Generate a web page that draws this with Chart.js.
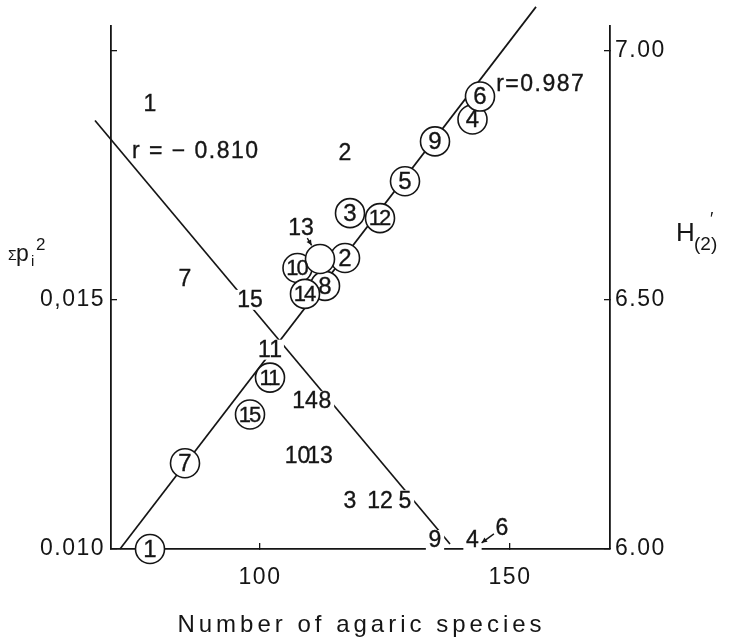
<!DOCTYPE html>
<html>
<head>
<meta charset="utf-8">
<script src="https://cdn.jsdelivr.net/npm/chart.js@4.4.0/dist/chart.umd.min.js"></script>
<style>
  html, body { margin: 0; padding: 0; background: #fff; }
</style>
</head>
<body>
<canvas id="myChart" width="733" height="643"></canvas>
<script>
const ctx = document.getElementById('myChart');

// site numbers, species counts, Simpson index and H'(2) per site
const sites   = ['1', '2', '3', '4', '5', '6', '7', '8', '9', '10', '11', '12', '13', '14', '15'];
const species = [78, 117, 118, 142.5, 129, 144, 85, 113, 135, 107.5, 102, 124, 112, 109, 98];
const simpson = [0.01894, 0.01795, 0.01098, 0.01018, 0.01098, 0.0101, 0.01542, 0.01297, 0.01018, 0.01187, 0.0140, 0.01098, 0.01187, 0.01297, 0.0150];
const shannon = [6.00, 6.584, 6.674, 6.862, 6.738, 6.908, 6.172, 6.528, 6.818, 6.564, 6.344, 6.664, 6.582, 6.512, 6.27];

// the two fitted lines, ends as drawn
const simpsonFitX = [67, 138];
const simpsonFitY = [0.0186, 0.0101];
const shannonFitX = [72, 155.2];
const shannonFitY = [6.00, 7.088];

const xTicks = [100, 150];
const xTickLabels = ['100', '150'];
const leftTicks = [0.010, 0.015, 0.020];
const leftTickLabels = ['0.010', '0,015', ''];
const rightTicks = [6.00, 6.50, 7.00];
const rightTickLabels = ['6.00', '6.50', '7.00'];

const rTexts = ['r = \u2212 0.810', 'r=0.987'];

// where labels sit away from their point (pixels), and the r notes in data units
const labelShift = { plain: { '6': [22, -16] }, circled: { '13': [-19, -31] } };
const emptyCircles = ['13'];
const rNotes = [
  { x: 87, y: 0.0180, axis: 'yL' },
  { x: 156, y: 6.934, axis: 'yR' }
];

const FAM = '"Liberation Sans", Arial, Helvetica, sans-serif';
const INK = '#151515';

function xy(xs, ys) {
  return xs.map((x, i) => ({ x: x, y: ys[i] }));
}

function arrow(c, x1, y1, x2, y2) {
  c.beginPath();
  c.moveTo(x1, y1);
  c.lineTo(x2, y2);
  c.stroke();
  const a = Math.atan2(y2 - y1, x2 - x1);
  c.beginPath();
  c.moveTo(x2, y2);
  c.lineTo(x2 - 6 * Math.cos(a - 0.45), y2 - 6 * Math.sin(a - 0.45));
  c.lineTo(x2 - 6 * Math.cos(a + 0.45), y2 - 6 * Math.sin(a + 0.45));
  c.closePath();
  c.fill();
}

function setFont(c, size, spacing) {
  c.font = size + 'px ' + FAM;
  c.letterSpacing = spacing + 'px';
  c.textAlign = 'center';
  c.textBaseline = 'middle';
}

function whiteBox(c, s, x, y, size, spacing) {
  setFont(c, size, spacing);
  const w = c.measureText(s).width;
  c.fillStyle = '#fff';
  c.fillRect(x - w / 2 - 2, y - 10, w + 4, 20);
}

function text(c, s, x, y, size, spacing) {
  setFont(c, size, spacing);
  c.fillStyle = INK;
  c.fillText(s, x + spacing / 2, y + 1);
  c.lineWidth = 0.35;
  c.strokeStyle = INK;
  c.strokeText(s, x + spacing / 2, y + 1);
}

const labelPlugin = {
  id: 'siteLabels',
  beforeDraw(chart) {
    chart.ctx.letterSpacing = '1.5px';
  },
  afterDatasetsDraw(chart) {
    const c = chart.ctx;
    c.save();
    const plain = chart.getDatasetMeta(1).data;

    // plain numbers (Simpson index): white boxes first, then text
    plain.forEach((pt, i) => {
      const s = sites[i];
      if (!labelShift.plain[s]) whiteBox(c, s, pt.x, pt.y, 23, s.length > 1 ? 0 : 1.5);
    });
    plain.forEach((pt, i) => {
      const s = sites[i];
      const sh = labelShift.plain[s];
      if (sh) {
        const lx = pt.x + sh[0], ly = pt.y + sh[1];
        const d = Math.hypot(sh[0], sh[1]);
        const ux = -sh[0] / d, uy = -sh[1] / d;
        c.strokeStyle = INK; c.fillStyle = INK; c.lineWidth = 1.4;
        arrow(c, lx + ux * 10, ly + uy * 10, pt.x - ux * 2, pt.y - uy * 2);
        text(c, s, lx, ly, 23, 1.5);
      } else {
        text(c, s, pt.x, pt.y, 23, s.length > 1 ? 0 : 1.5);
      }
    });

    // circled numbers: H'(2)
    chart.getDatasetMeta(0).data.forEach((pt, i) => {
      const s = sites[i];
      const sh = labelShift.circled[s];
      if (sh) {
        const lx = pt.x + sh[0], ly = pt.y + sh[1];
        const d = Math.hypot(sh[0], sh[1]);
        const ux = -sh[0] / d, uy = -sh[1] / d;
        c.strokeStyle = INK; c.fillStyle = INK; c.lineWidth = 1.4;
        arrow(c, lx + ux * 12, ly + uy * 12, pt.x - ux * 16, pt.y - uy * 16);
        text(c, s, lx, ly, 23, 0);
      }
      if (emptyCircles.indexOf(s) < 0) {
        if (s.length > 1) text(c, s, pt.x, pt.y, 22, -2);
        else text(c, s, pt.x, pt.y, 24, 0);
      }
    });

    // r values
    rNotes.forEach((n, i) => {
      const px = chart.scales.x.getPixelForValue(n.x);
      const py = chart.scales[n.axis].getPixelForValue(n.y);
      text(c, rTexts[i], px, py, 23, 1.5);
    });
    c.restore();
  },
  afterDraw(chart) {
    const c = chart.ctx;
    const a = chart.chartArea;
    c.save();
    c.fillStyle = INK;
    c.textBaseline = 'alphabetic';

    // x title
    c.font = '24px ' + FAM;
    c.letterSpacing = '4px';
    c.textAlign = 'center';
    c.fillText('Number of agaric species', (a.left + a.right) / 2 + 1, a.bottom + 83);

    // left title  Σp_i^2
    c.textAlign = 'left';
    c.letterSpacing = '0px';
    const yb = a.top + 235;
    c.font = '14px ' + FAM;
    c.fillText('\u03A3', a.left - 103, yb - 1);
    c.font = '23px ' + FAM;
    c.fillText('p', a.left - 95, yb);
    c.font = '15px ' + FAM;
    c.fillText('i', a.left - 80, yb + 5);
    c.font = '17px ' + FAM;
    c.fillText('2', a.left - 75, yb - 11);

    // right title  H'(2)
    const rb = a.top + 215;
    c.font = '26px ' + FAM;
    c.fillText('H', a.right + 66, rb);
    c.font = '19px ' + FAM;
    c.fillText('(2)', a.right + 84, rb + 9);
    c.font = '18px ' + FAM;
    c.fillText('\u2032', a.right + 100, rb - 16);
    c.restore();
  }
};

const tickFont = { family: 'Liberation Sans', size: 23 };

var chart = new Chart(ctx, {
  type: 'scatter',
  data: {
    datasets: [{
      label: "H'(2)",
      data: xy(species, shannon),
      yAxisID: 'yR',
      pointRadius: 14.5,
      pointHoverRadius: 14.5,
      pointBackgroundColor: '#fff',
      pointBorderColor: INK,
      pointBorderWidth: 1.6,
      showLine: false,
      clip: false,
      order: 0
    }, {
      label: 'Simpson',
      data: xy(species, simpson),
      yAxisID: 'yL',
      pointRadius: 0,
      showLine: false,
      clip: false,
      order: 1
    }, {
      label: 'Simpson fit',
      data: xy(simpsonFitX, simpsonFitY),
      yAxisID: 'yL',
      showLine: true,
      pointRadius: 0,
      borderColor: INK,
      borderWidth: 1.7,
      clip: false,
      order: 3
    }, {
      label: 'H fit',
      data: xy(shannonFitX, shannonFitY),
      yAxisID: 'yR',
      showLine: true,
      pointRadius: 0,
      borderColor: INK,
      borderWidth: 1.7,
      clip: false,
      order: 3
    }]
  },
  options: {
    responsive: false,
    devicePixelRatio: 1,
    animation: false,
    events: [],
    layout: { padding: { top: 22, left: 0, right: 0, bottom: 0 } },
    plugins: { legend: { display: false }, tooltip: { enabled: false } },
    scales: {
      x: {
        type: 'linear',
        min: 70.2,
        max: 170,
        grid: { drawOnChartArea: false, drawTicks: true, tickLength: -6, color: INK, lineWidth: 1.3 },
        border: { color: INK, width: 1.8 },
        ticks: {
          font: tickFont, color: INK, padding: 21, autoSkip: false, maxRotation: 0,
          callback: (v, i) => xTickLabels[i]
        },
        afterBuildTicks: s => { s.ticks = xTicks.map(v => ({ value: v })); },
        afterFit: s => { s.height = 94; }
      },
      yL: {
        type: 'linear',
        position: 'left',
        min: 0.010,
        max: 0.0205,
        grid: { drawOnChartArea: false, drawTicks: true, tickLength: -6, color: INK, lineWidth: 1.3 },
        border: { color: INK, width: 1.8 },
        ticks: {
          font: tickFont, color: INK, padding: 12, autoSkip: false,
          callback: (v, i) => leftTickLabels[i]
        },
        afterBuildTicks: s => { s.ticks = leftTicks.map(v => ({ value: v })); },
        afterFit: s => { s.width = 111; }
      },
      yR: {
        type: 'linear',
        position: 'right',
        min: 6.00,
        max: 7.05,
        grid: { drawOnChartArea: false, drawTicks: true, tickLength: -6, color: INK, lineWidth: 1.3 },
        border: { color: INK, width: 1.8 },
        ticks: {
          font: tickFont, color: INK, padding: 11, autoSkip: false,
          callback: (v, i) => rightTickLabels[i]
        },
        afterBuildTicks: s => { s.ticks = rightTicks.map(v => ({ value: v })); },
        afterFit: s => { s.width = 123; }
      }
    }
  },
  plugins: [labelPlugin]
});
</script>
</body>
</html>
